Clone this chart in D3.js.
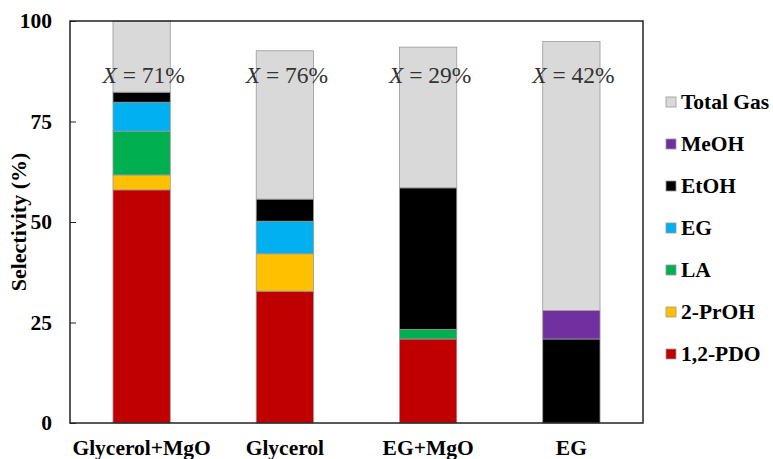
<!DOCTYPE html>
<html>
<head>
<meta charset="utf-8">
<script src="https://cdn.jsdelivr.net/npm/d3@7"></script>
<style>
  body { margin: 0; background: #fff; }
  text { font-family: "Liberation Serif", "Times New Roman", serif; }
</style>
</head>
<body>
<svg id="chart" width="773" height="459"></svg>
<script>
// Categories and series (selectivity, %)
var categories = ["Glycerol+MgO", "Glycerol", "EG+MgO", "EG"];
var conversion = ["71%", "76%", "29%", "42%"];

var pdo     = [58.0, 32.8, 20.9, 0];
var prOH    = [3.7, 9.3, 0, 0];
var la      = [10.9, 0, 2.4, 0];
var eg      = [7.2, 8.1, 0, 0];
var etOH    = [2.5, 5.5, 35.2, 20.9];
var meOH    = [0, 0, 0, 7.1];
var totalGas = [17.7, 36.9, 35.0, 66.9];

var yTicks = [0, 25, 50, 75, 100];

// Stack order from bottom to top
var seriesNames = ["1,2-PDO", "2-PrOH", "LA", "EG", "EtOH", "MeOH", "Total Gas"];
var seriesValues = [pdo, prOH, la, eg, etOH, meOH, totalGas];
var colors = ["#c00000", "#ffc000", "#00b050", "#00b0f0", "#000000", "#7030a0", "#d9d9d9"];

var svg = d3.select("svg#chart");

// Plot area (note: "top" is reserved on window, so use plot* names)
var plotLeft = 70, plotTop = 21, plotRight = 643, plotBottom = 423;

var labelSize = 21.5;

var x = d3.scaleBand()
  .domain(categories)
  .range([plotLeft, plotRight])
  .paddingInner(0.6)
  .paddingOuter(0.3);

var y = d3.scaleLinear()
  .domain([0, 100])
  .range([plotBottom, plotTop]);

// Build table for d3.stack
var table = categories.map(function(c, i) {
  var row = { category: c };
  seriesNames.forEach(function(s, j) { row[s] = seriesValues[j][i]; });
  return row;
});

var stacked = d3.stack().keys(seriesNames)(table);

var layers = svg.selectAll("g.layer")
  .data(stacked)
  .enter().append("g")
  .attr("class", "layer")
  .attr("fill", (d, i) => colors[i]);

layers.selectAll("rect")
  .data(d => d.filter(p => p[1] - p[0] > 0))
  .enter().append("rect")
  .attr("x", d => x(d.data.category))
  .attr("width", x.bandwidth())
  .attr("y", d => y(d[1]))
  .attr("height", d => y(d[0]) - y(d[1]))
  .attr("stroke", "#9a9a9a")
  .attr("stroke-width", 0.8);

// Conversion labels
svg.selectAll("text.conv")
  .data(categories)
  .enter().append("text")
  .attr("class", "conv")
  .attr("x", d => x(d) + x.bandwidth() / 2 + 2)
  .attr("y", 83)
  .attr("text-anchor", "middle")
  .attr("font-size", 23.5)
  .attr("fill", "#333")
  .each(function(d, i) {
    var t = d3.select(this);
    t.append("tspan").attr("font-style", "italic").text("X");
    t.append("tspan").text(" = " + conversion[i]);
  });

// Frame
svg.append("rect")
  .attr("x", plotLeft)
  .attr("y", plotTop)
  .attr("width", plotRight - plotLeft)
  .attr("height", plotBottom - plotTop)
  .attr("fill", "none")
  .attr("stroke", "#222")
  .attr("stroke-width", 1.5);

// Y axis (ticks pointing inward)
var yAxis = d3.axisLeft(y)
  .tickValues(yTicks)
  .tickSize(-6)
  .tickPadding(18);

var yg = svg.append("g")
  .attr("transform", "translate(" + plotLeft + ",0)")
  .call(yAxis);
yg.select(".domain").remove();
yg.selectAll(".tick line").attr("stroke", "#222");
yg.selectAll(".tick text")
  .attr("font-weight", "bold")
  .attr("font-size", labelSize)
  .attr("fill", "#000");

// X axis labels
var xAxis = d3.axisBottom(x).tickSize(0).tickPadding(17);
var xg = svg.append("g")
  .attr("transform", "translate(0," + plotBottom + ")")
  .call(xAxis);
xg.select(".domain").remove();
xg.selectAll(".tick text")
  .attr("font-weight", "bold")
  .attr("font-size", labelSize)
  .attr("fill", "#000");

// Y axis title
svg.append("text")
  .attr("transform", "translate(26," + ((plotTop + plotBottom) / 2) + ") rotate(-90)")
  .attr("text-anchor", "middle")
  .attr("font-weight", "bold")
  .attr("font-size", 22)
  .text("Selectivity (%)");

// Legend, top to bottom: reverse of the stack
var legendItems = seriesNames.map((s, i) => ({ name: s, color: colors[i] })).reverse();

var legendY = d3.scalePoint()
  .domain(legendItems.map(d => d.name))
  .range([102, 354]);

var legend = svg.selectAll("g.legend")
  .data(legendItems)
  .enter().append("g")
  .attr("class", "legend")
  .attr("transform", d => "translate(666," + legendY(d.name) + ")");

legend.append("rect")
  .attr("x", 0)
  .attr("y", -5)
  .attr("width", 10)
  .attr("height", 10)
  .attr("fill", d => d.color)
  .attr("stroke", "#9a9a9a")
  .attr("stroke-width", 0.8);

legend.append("text")
  .attr("x", 15)
  .attr("y", 7)
  .attr("font-weight", "bold")
  .attr("font-size", labelSize)
  .text(d => d.name);
</script>
</body>
</html>
